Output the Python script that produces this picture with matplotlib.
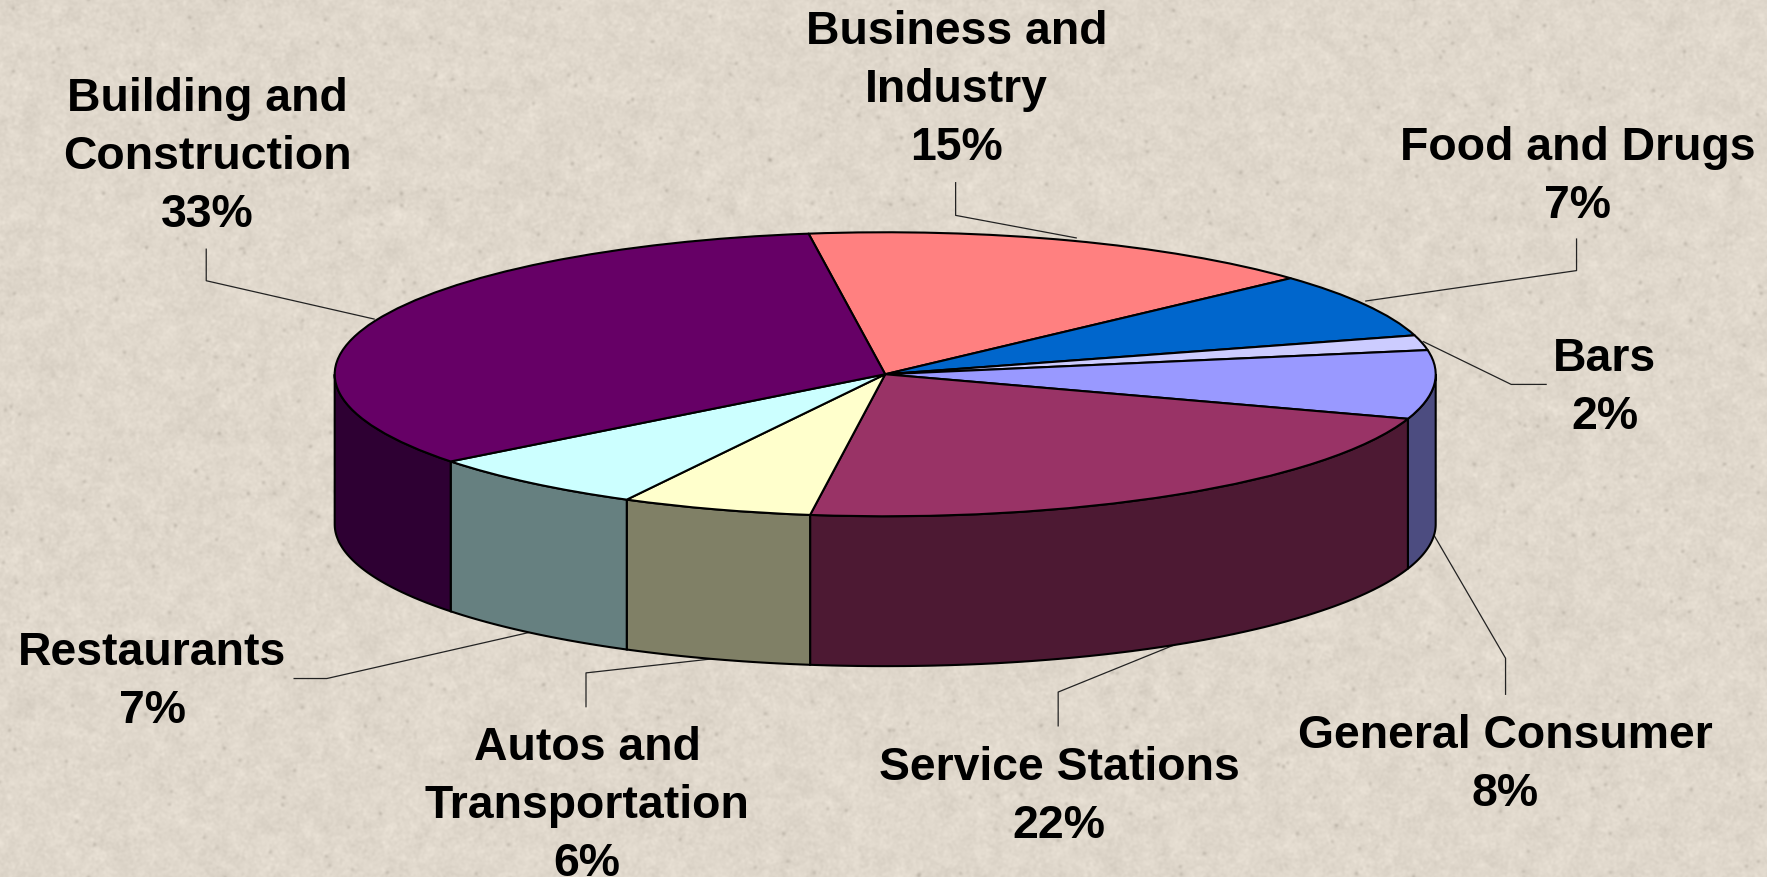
import numpy as np
import matplotlib
matplotlib.use("Agg")
import matplotlib.pyplot as plt
from matplotlib.patches import Polygon

categories = ["Business and\nIndustry", "Food and Drugs", "Bars", "General Consumer",
              "Service Stations", "Autos and\nTransportation", "Restaurants",
              "Building and\nConstruction"]
values = [15.4, 7.4, 1.7, 7.8, 22.1, 5.6, 6.7, 33.3]
top_colors = ["#FF8080", "#0066CC", "#CCCCFF", "#9999FF", "#993366", "#FFFFCC", "#CCFFFF", "#660066"]
side_colors = ["#804040", "#003366", "#666680", "#4C4C80", "#4D1933", "#808066", "#668080", "#2E0033"]

W, H = 1767, 878
S = W / 1568
CX, CY, RX, RY, DEPTH = 785.5 * S, 333 * S, 488.5 * S, 126 * S, 133 * S
START = 98.0

# label centres and leader routes, in reference pixels
label_xy = [(849, 80), (1400, 157), (1424, 344), (1336, 679), (940, 707), (521, 715), (135, 605), (184, 139)]
leaders = [[(848, 163), (848, 192), (955, 212)],
           [(1399, 213), (1399, 241), (1212, 268)],
           [(1372, 342), (1341, 342), (1263, 304)],
           [(1336, 617), (1336, 585), (1272, 475)],
           [(939, 645), (939, 615), (1045, 572)],
           [(520, 628), (520, 598), (655, 583)],
           [(261, 603), (290, 603), (470, 562)],
           [(183, 222), (183, 250), (332, 284)]]


def to_data(p):
    return (p[0] * S - CX) / RX, (CY - p[1] * S) / RY


fig = plt.figure(figsize=(W / 100, H / 100), dpi=100)

# paper-like background texture (decoration only)
rng = np.random.default_rng(7)
fx = np.fft.fftfreq(W)[None, :]
fy = np.fft.fftfreq(H)[:, None]


def blur(a, sigma):
    return np.fft.ifft2(np.fft.fft2(a) * np.exp(-2 * (np.pi * sigma) ** 2 * (fx ** 2 + fy ** 2))).real


coarse = blur(rng.normal(size=(H, W)), 5.0)
fine = blur(rng.normal(size=(H, W)), 1.2)
specks = blur((rng.random((H, W)) > 0.9995).astype(float), 1.5)
tex = 1.8 * coarse / coarse.std() + 2.5 * fine / fine.std() - 300 * specks
base = np.array([224.0, 216.0, 204.0])
img = np.clip(base + tex[..., None], 0, 255) / 255
fig.figimage(img, 0, 0, zorder=-10)

ax = fig.add_axes([0, 0, 1, 1])
d = DEPTH / RY

# side walls of the visible front half
edges = START - np.cumsum([0] + values) * 3.6
for i, col in enumerate(side_colors):
    hi, lo = edges[i], edges[i + 1]
    lo_v, hi_v = max(lo, -180), min(hi, 0)
    if hi_v <= lo_v:
        continue
    t = np.radians(np.linspace(hi_v, lo_v, 80))
    x, y = np.cos(t), np.sin(t)
    pts = np.r_[np.c_[x, y], np.c_[x[::-1], y[::-1] - d]]
    ax.add_patch(Polygon(pts, closed=True, facecolor=col, edgecolor="black", linewidth=1.5, zorder=2))

wedges, _ = ax.pie(values, colors=top_colors, startangle=START, counterclock=False, radius=1,
                   wedgeprops=dict(edgecolor="black", linewidth=1.5, zorder=3, joinstyle="round"))
ax.set_aspect("auto")
ax.set_xlim(-CX / RX, (W - CX) / RX)
ax.set_ylim((CY - H) / RY, CY / RY)
ax.axis("off")

for name, v, xy, route in zip(categories, values, label_xy, leaders):
    lx, ly = to_data(xy)
    ax.text(lx, ly, f"{name}\n{v:.0f}%", ha="center", va="center", family="Liberation Sans",
            fontweight="bold", fontsize=33.4, linespacing=1.41, color="black", zorder=6)
    r = np.array([to_data(p) for p in route])
    ax.plot(r[:, 0], r[:, 1], color="#222222", lw=0.9, zorder=1.5, clip_on=False)

fig.savefig("out.png", dpi=100)
